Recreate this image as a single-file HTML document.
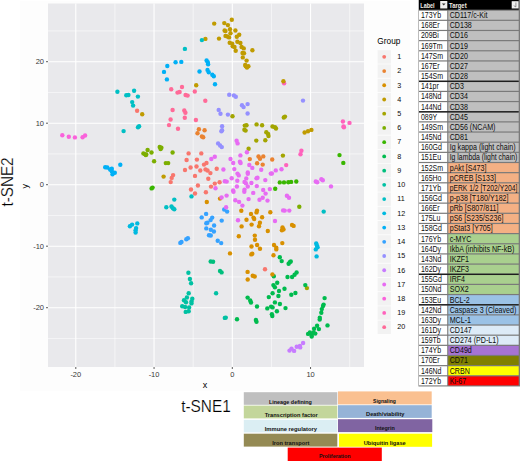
<!DOCTYPE html>
<html><head><meta charset="utf-8"><style>
html,body{margin:0;padding:0;background:#fff;}
body{width:520px;height:461px;overflow:hidden;}
svg{display:block;font-family:"Liberation Sans", sans-serif;}
</style></head><body>
<svg width="520" height="461" viewBox="0 0 520 461">
<rect x="19.8" y="1" width="390" height="389.8" fill="#FDFDFD"/>
<rect x="48" y="3.5" width="316" height="363.5" fill="#E9E9EC"/>
<line x1="114.93" y1="3.5" x2="114.93" y2="367" stroke="#FFFFFF" stroke-width="0.55"/>
<line x1="193.18" y1="3.5" x2="193.18" y2="367" stroke="#FFFFFF" stroke-width="0.55"/>
<line x1="271.43" y1="3.5" x2="271.43" y2="367" stroke="#FFFFFF" stroke-width="0.55"/>
<line x1="349.68" y1="3.5" x2="349.68" y2="367" stroke="#FFFFFF" stroke-width="0.55"/>
<line x1="48" y1="338.45" x2="364" y2="338.45" stroke="#FFFFFF" stroke-width="0.55"/>
<line x1="48" y1="276.95" x2="364" y2="276.95" stroke="#FFFFFF" stroke-width="0.55"/>
<line x1="48" y1="215.45" x2="364" y2="215.45" stroke="#FFFFFF" stroke-width="0.55"/>
<line x1="48" y1="153.95" x2="364" y2="153.95" stroke="#FFFFFF" stroke-width="0.55"/>
<line x1="48" y1="92.45" x2="364" y2="92.45" stroke="#FFFFFF" stroke-width="0.55"/>
<line x1="48" y1="30.95" x2="364" y2="30.95" stroke="#FFFFFF" stroke-width="0.55"/>
<line x1="75.80" y1="3.5" x2="75.80" y2="367" stroke="#FFFFFF" stroke-width="1.1"/>
<line x1="154.05" y1="3.5" x2="154.05" y2="367" stroke="#FFFFFF" stroke-width="1.1"/>
<line x1="232.30" y1="3.5" x2="232.30" y2="367" stroke="#FFFFFF" stroke-width="1.1"/>
<line x1="310.55" y1="3.5" x2="310.55" y2="367" stroke="#FFFFFF" stroke-width="1.1"/>
<line x1="48" y1="307.70" x2="364" y2="307.70" stroke="#FFFFFF" stroke-width="1.1"/>
<line x1="48" y1="246.20" x2="364" y2="246.20" stroke="#FFFFFF" stroke-width="1.1"/>
<line x1="48" y1="184.70" x2="364" y2="184.70" stroke="#FFFFFF" stroke-width="1.1"/>
<line x1="48" y1="123.20" x2="364" y2="123.20" stroke="#FFFFFF" stroke-width="1.1"/>
<line x1="48" y1="61.70" x2="364" y2="61.70" stroke="#FFFFFF" stroke-width="1.1"/>
<circle cx="273.8" cy="276.2" r="2.2" fill="#00BB4E"/>
<circle cx="284.1" cy="83.2" r="2.2" fill="#FF62BC"/>
<circle cx="137.1" cy="110.8" r="2.2" fill="#F8766D"/>
<circle cx="188.6" cy="153.4" r="2.2" fill="#F8766D"/>
<circle cx="201.3" cy="153.4" r="2.2" fill="#F8766D"/>
<circle cx="186.6" cy="160.0" r="2.2" fill="#F8766D"/>
<circle cx="196.9" cy="159.6" r="2.2" fill="#F8766D"/>
<circle cx="204.0" cy="164.6" r="2.2" fill="#F8766D"/>
<circle cx="206.5" cy="163.0" r="2.2" fill="#F8766D"/>
<circle cx="190.6" cy="167.5" r="2.2" fill="#F8766D"/>
<circle cx="196.5" cy="166.5" r="2.2" fill="#F8766D"/>
<circle cx="185.0" cy="170.0" r="2.2" fill="#F8766D"/>
<circle cx="200.3" cy="170.5" r="2.2" fill="#F8766D"/>
<circle cx="205.5" cy="169.4" r="2.2" fill="#F8766D"/>
<circle cx="207.5" cy="170.5" r="2.2" fill="#F8766D"/>
<circle cx="216.7" cy="168.7" r="2.2" fill="#F8766D"/>
<circle cx="210.4" cy="173.1" r="2.2" fill="#F8766D"/>
<circle cx="195.0" cy="175.9" r="2.2" fill="#F8766D"/>
<circle cx="208.3" cy="178.8" r="2.2" fill="#F8766D"/>
<circle cx="173.1" cy="175.1" r="2.2" fill="#F8766D"/>
<circle cx="171.7" cy="177.9" r="2.2" fill="#F8766D"/>
<circle cx="170.7" cy="182.1" r="2.2" fill="#F8766D"/>
<circle cx="197.9" cy="185.5" r="2.2" fill="#F8766D"/>
<circle cx="191.0" cy="189.5" r="2.2" fill="#F8766D"/>
<circle cx="195.0" cy="193.5" r="2.2" fill="#F8766D"/>
<circle cx="205.9" cy="192.3" r="2.2" fill="#F8766D"/>
<circle cx="211.0" cy="186.6" r="2.2" fill="#F8766D"/>
<circle cx="214.8" cy="183.6" r="2.2" fill="#F8766D"/>
<circle cx="219.6" cy="182.3" r="2.2" fill="#F8766D"/>
<circle cx="265.0" cy="269.2" r="2.2" fill="#F8766D"/>
<circle cx="198.9" cy="129.3" r="2.2" fill="#EA8331"/>
<circle cx="204.6" cy="130.3" r="2.2" fill="#EA8331"/>
<circle cx="197.5" cy="133.3" r="2.2" fill="#EA8331"/>
<circle cx="201.9" cy="136.5" r="2.2" fill="#EA8331"/>
<circle cx="203.2" cy="137.3" r="2.2" fill="#EA8331"/>
<circle cx="249.8" cy="159.1" r="2.2" fill="#EA8331"/>
<circle cx="258.5" cy="156.5" r="2.2" fill="#EA8331"/>
<circle cx="260.0" cy="158.8" r="2.2" fill="#EA8331"/>
<circle cx="263.3" cy="156.4" r="2.2" fill="#EA8331"/>
<circle cx="257.1" cy="163.3" r="2.2" fill="#EA8331"/>
<circle cx="262.7" cy="164.6" r="2.2" fill="#EA8331"/>
<circle cx="272.2" cy="159.5" r="2.2" fill="#EA8331"/>
<circle cx="220.0" cy="198.6" r="2.2" fill="#D89000"/>
<circle cx="206.8" cy="202.0" r="2.2" fill="#D89000"/>
<circle cx="241.3" cy="210.8" r="2.2" fill="#D89000"/>
<circle cx="251.0" cy="214.0" r="2.2" fill="#D89000"/>
<circle cx="257.0" cy="210.6" r="2.2" fill="#D89000"/>
<circle cx="256.5" cy="212.4" r="2.2" fill="#D89000"/>
<circle cx="253.5" cy="217.6" r="2.2" fill="#D89000"/>
<circle cx="254.2" cy="219.0" r="2.2" fill="#D89000"/>
<circle cx="246.5" cy="219.8" r="2.2" fill="#D89000"/>
<circle cx="262.1" cy="217.2" r="2.2" fill="#D89000"/>
<circle cx="270.3" cy="212.2" r="2.2" fill="#D89000"/>
<circle cx="259.9" cy="222.7" r="2.2" fill="#D89000"/>
<circle cx="251.6" cy="224.6" r="2.2" fill="#D89000"/>
<circle cx="241.6" cy="226.4" r="2.2" fill="#D89000"/>
<circle cx="259.0" cy="226.3" r="2.2" fill="#D89000"/>
<circle cx="267.8" cy="231.0" r="2.2" fill="#D89000"/>
<circle cx="282.5" cy="227.5" r="2.2" fill="#D89000"/>
<circle cx="283.5" cy="229.4" r="2.2" fill="#D89000"/>
<circle cx="281.9" cy="230.3" r="2.2" fill="#D89000"/>
<circle cx="238.8" cy="236.3" r="2.2" fill="#D89000"/>
<circle cx="254.8" cy="235.6" r="2.2" fill="#D89000"/>
<circle cx="255.0" cy="239.8" r="2.2" fill="#D89000"/>
<circle cx="251.5" cy="246.5" r="2.2" fill="#D89000"/>
<circle cx="257.1" cy="245.0" r="2.2" fill="#D89000"/>
<circle cx="260.0" cy="248.8" r="2.2" fill="#D89000"/>
<circle cx="282.3" cy="243.1" r="2.2" fill="#D89000"/>
<circle cx="274.0" cy="245.0" r="2.2" fill="#D89000"/>
<circle cx="276.3" cy="247.8" r="2.2" fill="#D89000"/>
<circle cx="276.3" cy="249.4" r="2.2" fill="#D89000"/>
<circle cx="230.0" cy="253.4" r="2.2" fill="#D89000"/>
<circle cx="251.3" cy="254.4" r="2.2" fill="#D89000"/>
<circle cx="252.3" cy="253.8" r="2.2" fill="#D89000"/>
<circle cx="273.5" cy="255.3" r="2.2" fill="#D89000"/>
<circle cx="292.0" cy="224.9" r="2.2" fill="#D89000"/>
<circle cx="293.6" cy="225.9" r="2.2" fill="#D89000"/>
<circle cx="247.6" cy="271.9" r="2.2" fill="#D89000"/>
<circle cx="252.7" cy="275.7" r="2.2" fill="#D89000"/>
<circle cx="254.7" cy="276.5" r="2.2" fill="#D89000"/>
<circle cx="247.7" cy="279.5" r="2.2" fill="#D89000"/>
<circle cx="272.4" cy="274.4" r="2.2" fill="#D89000"/>
<circle cx="214.2" cy="23.6" r="2.2" fill="#C09B00"/>
<circle cx="231.8" cy="19.8" r="2.2" fill="#C09B00"/>
<circle cx="224.3" cy="23.1" r="2.2" fill="#C09B00"/>
<circle cx="227.9" cy="25.1" r="2.2" fill="#C09B00"/>
<circle cx="230.0" cy="29.3" r="2.2" fill="#C09B00"/>
<circle cx="224.6" cy="30.5" r="2.2" fill="#C09B00"/>
<circle cx="225.5" cy="31.1" r="2.2" fill="#C09B00"/>
<circle cx="230.5" cy="33.3" r="2.2" fill="#C09B00"/>
<circle cx="235.4" cy="30.5" r="2.2" fill="#C09B00"/>
<circle cx="219.0" cy="38.6" r="2.2" fill="#C09B00"/>
<circle cx="225.5" cy="35.9" r="2.2" fill="#C09B00"/>
<circle cx="227.3" cy="36.5" r="2.2" fill="#C09B00"/>
<circle cx="229.1" cy="37.4" r="2.2" fill="#C09B00"/>
<circle cx="236.8" cy="36.7" r="2.2" fill="#C09B00"/>
<circle cx="239.2" cy="34.7" r="2.2" fill="#C09B00"/>
<circle cx="229.7" cy="42.7" r="2.2" fill="#C09B00"/>
<circle cx="232.1" cy="43.6" r="2.2" fill="#C09B00"/>
<circle cx="232.7" cy="46.3" r="2.2" fill="#C09B00"/>
<circle cx="234.5" cy="47.0" r="2.2" fill="#C09B00"/>
<circle cx="237.4" cy="41.8" r="2.2" fill="#C09B00"/>
<circle cx="240.4" cy="43.0" r="2.2" fill="#C09B00"/>
<circle cx="241.6" cy="47.0" r="2.2" fill="#C09B00"/>
<circle cx="243.8" cy="48.4" r="2.2" fill="#C09B00"/>
<circle cx="235.7" cy="50.8" r="2.2" fill="#C09B00"/>
<circle cx="242.5" cy="53.0" r="2.2" fill="#C09B00"/>
<circle cx="244.0" cy="53.2" r="2.2" fill="#C09B00"/>
<circle cx="252.4" cy="50.2" r="2.2" fill="#C09B00"/>
<circle cx="242.8" cy="57.4" r="2.2" fill="#C09B00"/>
<circle cx="246.6" cy="60.6" r="2.2" fill="#C09B00"/>
<circle cx="245.2" cy="64.9" r="2.2" fill="#C09B00"/>
<circle cx="245.8" cy="66.3" r="2.2" fill="#C09B00"/>
<circle cx="248.4" cy="66.3" r="2.2" fill="#C09B00"/>
<circle cx="247.0" cy="67.5" r="2.2" fill="#C09B00"/>
<circle cx="205.4" cy="38.9" r="2.2" fill="#C09B00"/>
<circle cx="196.2" cy="85.2" r="2.2" fill="#C09B00"/>
<circle cx="142.2" cy="114.3" r="2.2" fill="#C09B00"/>
<circle cx="163.6" cy="176.6" r="2.2" fill="#C09B00"/>
<circle cx="304.6" cy="132.5" r="2.2" fill="#C09B00"/>
<circle cx="308.0" cy="131.3" r="2.2" fill="#C09B00"/>
<circle cx="311.4" cy="129.9" r="2.2" fill="#C09B00"/>
<circle cx="283.4" cy="81.3" r="2.2" fill="#C09B00"/>
<circle cx="232.5" cy="116.3" r="2.2" fill="#A3A500"/>
<circle cx="244.8" cy="125.6" r="2.2" fill="#A3A500"/>
<circle cx="246.5" cy="125.3" r="2.2" fill="#A3A500"/>
<circle cx="244.4" cy="129.8" r="2.2" fill="#A3A500"/>
<circle cx="245.6" cy="130.6" r="2.2" fill="#A3A500"/>
<circle cx="256.6" cy="124.4" r="2.2" fill="#A3A500"/>
<circle cx="262.1" cy="125.3" r="2.2" fill="#A3A500"/>
<circle cx="272.5" cy="126.5" r="2.2" fill="#A3A500"/>
<circle cx="275.0" cy="127.3" r="2.2" fill="#A3A500"/>
<circle cx="276.0" cy="128.5" r="2.2" fill="#A3A500"/>
<circle cx="266.3" cy="132.3" r="2.2" fill="#A3A500"/>
<circle cx="268.1" cy="134.0" r="2.2" fill="#A3A500"/>
<circle cx="268.5" cy="136.0" r="2.2" fill="#A3A500"/>
<circle cx="256.3" cy="140.6" r="2.2" fill="#A3A500"/>
<circle cx="265.3" cy="140.3" r="2.2" fill="#A3A500"/>
<circle cx="283.8" cy="117.5" r="2.2" fill="#A3A500"/>
<circle cx="285.0" cy="116.6" r="2.2" fill="#A3A500"/>
<circle cx="248.6" cy="148.8" r="2.2" fill="#A3A500"/>
<circle cx="282.9" cy="155.6" r="2.2" fill="#A3A500"/>
<circle cx="306.9" cy="288.1" r="2.2" fill="#A3A500"/>
<circle cx="159.7" cy="147.0" r="2.2" fill="#7CAE00"/>
<circle cx="161.4" cy="147.8" r="2.2" fill="#7CAE00"/>
<circle cx="160.6" cy="149.0" r="2.2" fill="#7CAE00"/>
<circle cx="147.6" cy="150.0" r="2.2" fill="#7CAE00"/>
<circle cx="143.4" cy="153.4" r="2.2" fill="#7CAE00"/>
<circle cx="144.8" cy="154.1" r="2.2" fill="#7CAE00"/>
<circle cx="146.3" cy="154.4" r="2.2" fill="#7CAE00"/>
<circle cx="145.8" cy="155.1" r="2.2" fill="#7CAE00"/>
<circle cx="151.5" cy="152.5" r="2.2" fill="#7CAE00"/>
<circle cx="172.6" cy="152.5" r="2.2" fill="#7CAE00"/>
<circle cx="154.1" cy="161.3" r="2.2" fill="#7CAE00"/>
<circle cx="165.8" cy="163.1" r="2.2" fill="#7CAE00"/>
<circle cx="168.2" cy="163.1" r="2.2" fill="#7CAE00"/>
<circle cx="299.3" cy="206.7" r="2.2" fill="#7CAE00"/>
<circle cx="279.8" cy="182.4" r="2.2" fill="#39B600"/>
<circle cx="284.0" cy="182.4" r="2.2" fill="#39B600"/>
<circle cx="288.3" cy="182.2" r="2.2" fill="#39B600"/>
<circle cx="291.1" cy="181.9" r="2.2" fill="#39B600"/>
<circle cx="296.3" cy="181.5" r="2.2" fill="#39B600"/>
<circle cx="275.2" cy="188.8" r="2.2" fill="#39B600"/>
<circle cx="151.6" cy="188.4" r="2.2" fill="#39B600"/>
<circle cx="152.6" cy="187.6" r="2.2" fill="#39B600"/>
<circle cx="339.5" cy="155.1" r="2.2" fill="#39B600"/>
<circle cx="343.3" cy="162.9" r="2.2" fill="#39B600"/>
<circle cx="279.8" cy="257.3" r="2.2" fill="#00BB4E"/>
<circle cx="281.7" cy="261.1" r="2.2" fill="#00BB4E"/>
<circle cx="288.6" cy="263.8" r="2.2" fill="#00BB4E"/>
<circle cx="289.8" cy="262.3" r="2.2" fill="#00BB4E"/>
<circle cx="290.8" cy="261.4" r="2.2" fill="#00BB4E"/>
<circle cx="287.5" cy="277.0" r="2.2" fill="#00BB4E"/>
<circle cx="292.1" cy="277.0" r="2.2" fill="#00BB4E"/>
<circle cx="294.6" cy="274.7" r="2.2" fill="#00BB4E"/>
<circle cx="296.6" cy="272.5" r="2.2" fill="#00BB4E"/>
<circle cx="305.3" cy="285.1" r="2.2" fill="#00BB4E"/>
<circle cx="277.2" cy="282.8" r="2.2" fill="#00BB4E"/>
<circle cx="273.4" cy="285.1" r="2.2" fill="#00BB4E"/>
<circle cx="274.9" cy="287.2" r="2.2" fill="#00BB4E"/>
<circle cx="284.5" cy="288.7" r="2.2" fill="#00BB4E"/>
<circle cx="279.0" cy="291.0" r="2.2" fill="#00BB4E"/>
<circle cx="272.6" cy="293.3" r="2.2" fill="#00BB4E"/>
<circle cx="268.8" cy="297.1" r="2.2" fill="#00BB4E"/>
<circle cx="278.4" cy="296.0" r="2.2" fill="#00BB4E"/>
<circle cx="291.3" cy="294.8" r="2.2" fill="#00BB4E"/>
<circle cx="295.4" cy="293.0" r="2.2" fill="#00BB4E"/>
<circle cx="274.9" cy="302.4" r="2.2" fill="#00BB4E"/>
<circle cx="279.9" cy="304.0" r="2.2" fill="#00BB4E"/>
<circle cx="267.3" cy="308.4" r="2.2" fill="#00BB4E"/>
<circle cx="271.1" cy="306.6" r="2.2" fill="#00BB4E"/>
<circle cx="272.6" cy="307.4" r="2.2" fill="#00BB4E"/>
<circle cx="285.5" cy="308.1" r="2.2" fill="#00BB4E"/>
<circle cx="276.9" cy="311.2" r="2.2" fill="#00BB4E"/>
<circle cx="271.9" cy="314.2" r="2.2" fill="#00BB4E"/>
<circle cx="272.3" cy="316.0" r="2.2" fill="#00BB4E"/>
<circle cx="247.6" cy="297.6" r="2.2" fill="#00BB4E"/>
<circle cx="250.2" cy="300.5" r="2.2" fill="#00BB4E"/>
<circle cx="251.0" cy="302.5" r="2.2" fill="#00BB4E"/>
<circle cx="257.0" cy="306.5" r="2.2" fill="#00BB4E"/>
<circle cx="237.0" cy="319.2" r="2.2" fill="#00BB4E"/>
<circle cx="255.9" cy="320.0" r="2.2" fill="#00BB4E"/>
<circle cx="256.5" cy="321.7" r="2.2" fill="#00BB4E"/>
<circle cx="324.6" cy="298.1" r="2.2" fill="#00BB4E"/>
<circle cx="323.6" cy="304.6" r="2.2" fill="#00BB4E"/>
<circle cx="323.0" cy="306.1" r="2.2" fill="#00BB4E"/>
<circle cx="321.8" cy="309.1" r="2.2" fill="#00BB4E"/>
<circle cx="321.3" cy="312.7" r="2.2" fill="#00BB4E"/>
<circle cx="319.8" cy="317.7" r="2.2" fill="#00BB4E"/>
<circle cx="319.7" cy="319.6" r="2.2" fill="#00BB4E"/>
<circle cx="327.5" cy="325.4" r="2.2" fill="#00BB4E"/>
<circle cx="317.1" cy="325.8" r="2.2" fill="#00BB4E"/>
<circle cx="314.1" cy="328.8" r="2.2" fill="#00BB4E"/>
<circle cx="318.9" cy="329.1" r="2.2" fill="#00BB4E"/>
<circle cx="309.9" cy="332.4" r="2.2" fill="#00BB4E"/>
<circle cx="308.1" cy="333.9" r="2.2" fill="#00BB4E"/>
<circle cx="315.3" cy="333.6" r="2.2" fill="#00BB4E"/>
<circle cx="311.7" cy="334.7" r="2.2" fill="#00BB4E"/>
<circle cx="311.7" cy="336.5" r="2.2" fill="#00BB4E"/>
<circle cx="313.5" cy="332.4" r="2.2" fill="#00BB4E"/>
<circle cx="210.7" cy="261.5" r="2.2" fill="#00BF7D"/>
<circle cx="213.1" cy="261.8" r="2.2" fill="#00BF7D"/>
<circle cx="220.0" cy="270.9" r="2.2" fill="#00BF7D"/>
<circle cx="221.6" cy="272.4" r="2.2" fill="#00BF7D"/>
<circle cx="188.4" cy="272.8" r="2.2" fill="#00C1A3"/>
<circle cx="189.9" cy="279.0" r="2.2" fill="#00C1A3"/>
<circle cx="191.1" cy="283.3" r="2.2" fill="#00C1A3"/>
<circle cx="188.7" cy="293.3" r="2.2" fill="#00C1A3"/>
<circle cx="186.9" cy="297.5" r="2.2" fill="#00C1A3"/>
<circle cx="184.0" cy="300.2" r="2.2" fill="#00C1A3"/>
<circle cx="186.0" cy="302.2" r="2.2" fill="#00C1A3"/>
<circle cx="192.3" cy="298.7" r="2.2" fill="#00C1A3"/>
<circle cx="191.5" cy="301.4" r="2.2" fill="#00C1A3"/>
<circle cx="191.5" cy="303.4" r="2.2" fill="#00C1A3"/>
<circle cx="182.2" cy="306.2" r="2.2" fill="#00C1A3"/>
<circle cx="185.1" cy="307.0" r="2.2" fill="#00C1A3"/>
<circle cx="189.1" cy="307.4" r="2.2" fill="#00C1A3"/>
<circle cx="185.7" cy="311.9" r="2.2" fill="#00C1A3"/>
<circle cx="188.7" cy="311.3" r="2.2" fill="#00C1A3"/>
<circle cx="216.1" cy="293.2" r="2.2" fill="#00C1A3"/>
<circle cx="224.8" cy="317.9" r="2.2" fill="#00C1A3"/>
<circle cx="225.8" cy="317.6" r="2.2" fill="#00C1A3"/>
<circle cx="117.4" cy="91.7" r="2.2" fill="#00BFC4"/>
<circle cx="126.3" cy="95.3" r="2.2" fill="#00BFC4"/>
<circle cx="128.4" cy="95.0" r="2.2" fill="#00BFC4"/>
<circle cx="134.1" cy="90.7" r="2.2" fill="#00BFC4"/>
<circle cx="137.9" cy="96.6" r="2.2" fill="#00BFC4"/>
<circle cx="132.2" cy="102.1" r="2.2" fill="#00BFC4"/>
<circle cx="133.1" cy="105.6" r="2.2" fill="#00BFC4"/>
<circle cx="138.0" cy="127.3" r="2.2" fill="#00BFC4"/>
<circle cx="139.1" cy="126.2" r="2.2" fill="#00BFC4"/>
<circle cx="123.6" cy="131.1" r="2.2" fill="#00BFC4"/>
<circle cx="201.9" cy="40.1" r="2.2" fill="#00BFC4"/>
<circle cx="184.9" cy="48.9" r="2.2" fill="#00BFC4"/>
<circle cx="166.3" cy="207.3" r="2.2" fill="#00BFC4"/>
<circle cx="171.5" cy="206.5" r="2.2" fill="#00BFC4"/>
<circle cx="172.9" cy="208.3" r="2.2" fill="#00BFC4"/>
<circle cx="174.3" cy="209.3" r="2.2" fill="#00BFC4"/>
<circle cx="174.3" cy="199.6" r="2.2" fill="#00BFC4"/>
<circle cx="191.5" cy="196.4" r="2.2" fill="#00BFC4"/>
<circle cx="323.7" cy="211.6" r="2.2" fill="#00BFC4"/>
<circle cx="129.9" cy="226.3" r="2.2" fill="#00BAE0"/>
<circle cx="132.1" cy="224.6" r="2.2" fill="#00BAE0"/>
<circle cx="137.3" cy="223.4" r="2.2" fill="#00BAE0"/>
<circle cx="136.1" cy="228.1" r="2.2" fill="#00BAE0"/>
<circle cx="135.6" cy="230.3" r="2.2" fill="#00BAE0"/>
<circle cx="135.6" cy="232.6" r="2.2" fill="#00BAE0"/>
<circle cx="316.2" cy="243.4" r="2.2" fill="#00BAE0"/>
<circle cx="316.9" cy="245.4" r="2.2" fill="#00BAE0"/>
<circle cx="317.6" cy="247.2" r="2.2" fill="#00BAE0"/>
<circle cx="315.8" cy="249.4" r="2.2" fill="#00BAE0"/>
<circle cx="316.6" cy="256.4" r="2.2" fill="#00BAE0"/>
<circle cx="175.6" cy="62.2" r="2.2" fill="#00B0F6"/>
<circle cx="181.3" cy="61.9" r="2.2" fill="#00B0F6"/>
<circle cx="167.3" cy="66.0" r="2.2" fill="#00B0F6"/>
<circle cx="164.0" cy="71.9" r="2.2" fill="#00B0F6"/>
<circle cx="166.9" cy="79.4" r="2.2" fill="#00B0F6"/>
<circle cx="199.5" cy="71.5" r="2.2" fill="#00B0F6"/>
<circle cx="206.6" cy="60.4" r="2.2" fill="#00B0F6"/>
<circle cx="207.8" cy="62.2" r="2.2" fill="#00B0F6"/>
<circle cx="208.1" cy="64.3" r="2.2" fill="#00B0F6"/>
<circle cx="207.5" cy="69.9" r="2.2" fill="#00B0F6"/>
<circle cx="208.7" cy="72.3" r="2.2" fill="#00B0F6"/>
<circle cx="212.3" cy="74.7" r="2.2" fill="#00B0F6"/>
<circle cx="213.8" cy="76.2" r="2.2" fill="#00B0F6"/>
<circle cx="215.0" cy="84.2" r="2.2" fill="#00B0F6"/>
<circle cx="105.2" cy="167.3" r="2.2" fill="#00B0F6"/>
<circle cx="107.3" cy="167.5" r="2.2" fill="#00B0F6"/>
<circle cx="110.1" cy="169.5" r="2.2" fill="#00B0F6"/>
<circle cx="111.8" cy="168.7" r="2.2" fill="#00B0F6"/>
<circle cx="111.8" cy="171.3" r="2.2" fill="#00B0F6"/>
<circle cx="114.8" cy="172.7" r="2.2" fill="#00B0F6"/>
<circle cx="112.5" cy="174.2" r="2.2" fill="#00B0F6"/>
<circle cx="120.3" cy="164.7" r="2.2" fill="#00B0F6"/>
<circle cx="206.1" cy="213.9" r="2.2" fill="#35A2FF"/>
<circle cx="201.7" cy="217.4" r="2.2" fill="#35A2FF"/>
<circle cx="212.2" cy="217.6" r="2.2" fill="#35A2FF"/>
<circle cx="210.6" cy="220.1" r="2.2" fill="#35A2FF"/>
<circle cx="207.4" cy="222.8" r="2.2" fill="#35A2FF"/>
<circle cx="206.3" cy="223.3" r="2.2" fill="#35A2FF"/>
<circle cx="214.1" cy="225.5" r="2.2" fill="#35A2FF"/>
<circle cx="206.3" cy="228.4" r="2.2" fill="#35A2FF"/>
<circle cx="210.8" cy="229.8" r="2.2" fill="#35A2FF"/>
<circle cx="213.9" cy="231.5" r="2.2" fill="#35A2FF"/>
<circle cx="209.0" cy="235.2" r="2.2" fill="#35A2FF"/>
<circle cx="210.8" cy="235.5" r="2.2" fill="#35A2FF"/>
<circle cx="217.7" cy="240.7" r="2.2" fill="#35A2FF"/>
<circle cx="221.2" cy="243.1" r="2.2" fill="#35A2FF"/>
<circle cx="221.7" cy="220.6" r="2.2" fill="#35A2FF"/>
<circle cx="224.2" cy="209.5" r="2.2" fill="#35A2FF"/>
<circle cx="227.1" cy="211.6" r="2.2" fill="#35A2FF"/>
<circle cx="180.3" cy="242.9" r="2.2" fill="#35A2FF"/>
<circle cx="181.5" cy="241.9" r="2.2" fill="#35A2FF"/>
<circle cx="186.3" cy="239.3" r="2.2" fill="#35A2FF"/>
<circle cx="187.9" cy="238.3" r="2.2" fill="#35A2FF"/>
<circle cx="229.2" cy="94.7" r="2.2" fill="#9590FF"/>
<circle cx="233.9" cy="95.4" r="2.2" fill="#9590FF"/>
<circle cx="235.8" cy="96.7" r="2.2" fill="#9590FF"/>
<circle cx="242.0" cy="105.2" r="2.2" fill="#9590FF"/>
<circle cx="243.6" cy="107.1" r="2.2" fill="#9590FF"/>
<circle cx="247.6" cy="104.1" r="2.2" fill="#9590FF"/>
<circle cx="218.7" cy="109.9" r="2.2" fill="#9590FF"/>
<circle cx="220.5" cy="113.8" r="2.2" fill="#9590FF"/>
<circle cx="227.9" cy="114.6" r="2.2" fill="#9590FF"/>
<circle cx="247.6" cy="113.5" r="2.2" fill="#9590FF"/>
<circle cx="222.1" cy="126.3" r="2.2" fill="#9590FF"/>
<circle cx="222.1" cy="130.3" r="2.2" fill="#9590FF"/>
<circle cx="221.4" cy="131.3" r="2.2" fill="#9590FF"/>
<circle cx="218.1" cy="143.4" r="2.2" fill="#9590FF"/>
<circle cx="220.1" cy="145.5" r="2.2" fill="#9590FF"/>
<circle cx="221.8" cy="147.1" r="2.2" fill="#9590FF"/>
<circle cx="303.0" cy="100.6" r="2.2" fill="#9590FF"/>
<circle cx="289.5" cy="350.6" r="2.2" fill="#C77CFF"/>
<circle cx="291.5" cy="348.6" r="2.2" fill="#C77CFF"/>
<circle cx="294.1" cy="350.9" r="2.2" fill="#C77CFF"/>
<circle cx="296.7" cy="346.8" r="2.2" fill="#C77CFF"/>
<circle cx="299.9" cy="346.0" r="2.2" fill="#C77CFF"/>
<circle cx="300.2" cy="347.4" r="2.2" fill="#C77CFF"/>
<circle cx="303.1" cy="343.0" r="2.2" fill="#C77CFF"/>
<circle cx="236.6" cy="140.7" r="2.2" fill="#E76BF3"/>
<circle cx="237.6" cy="143.4" r="2.2" fill="#E76BF3"/>
<circle cx="246.9" cy="152.3" r="2.2" fill="#E76BF3"/>
<circle cx="240.4" cy="155.4" r="2.2" fill="#E76BF3"/>
<circle cx="214.8" cy="156.8" r="2.2" fill="#E76BF3"/>
<circle cx="211.3" cy="159.0" r="2.2" fill="#E76BF3"/>
<circle cx="230.5" cy="159.0" r="2.2" fill="#E76BF3"/>
<circle cx="233.2" cy="163.0" r="2.2" fill="#E76BF3"/>
<circle cx="239.9" cy="161.7" r="2.2" fill="#E76BF3"/>
<circle cx="240.6" cy="163.0" r="2.2" fill="#E76BF3"/>
<circle cx="249.3" cy="165.0" r="2.2" fill="#E76BF3"/>
<circle cx="252.3" cy="167.9" r="2.2" fill="#E76BF3"/>
<circle cx="223.4" cy="169.5" r="2.2" fill="#E76BF3"/>
<circle cx="234.3" cy="169.1" r="2.2" fill="#E76BF3"/>
<circle cx="237.5" cy="173.6" r="2.2" fill="#E76BF3"/>
<circle cx="238.8" cy="175.4" r="2.2" fill="#E76BF3"/>
<circle cx="247.8" cy="172.5" r="2.2" fill="#E76BF3"/>
<circle cx="247.8" cy="173.8" r="2.2" fill="#E76BF3"/>
<circle cx="261.2" cy="169.8" r="2.2" fill="#E76BF3"/>
<circle cx="275.8" cy="170.4" r="2.2" fill="#E76BF3"/>
<circle cx="270.8" cy="173.6" r="2.2" fill="#E76BF3"/>
<circle cx="271.9" cy="173.5" r="2.2" fill="#E76BF3"/>
<circle cx="281.5" cy="169.3" r="2.2" fill="#E76BF3"/>
<circle cx="231.7" cy="178.3" r="2.2" fill="#E76BF3"/>
<circle cx="237.3" cy="180.8" r="2.2" fill="#E76BF3"/>
<circle cx="246.3" cy="178.4" r="2.2" fill="#E76BF3"/>
<circle cx="244.5" cy="182.0" r="2.2" fill="#E76BF3"/>
<circle cx="245.9" cy="183.3" r="2.2" fill="#E76BF3"/>
<circle cx="247.8" cy="186.5" r="2.2" fill="#E76BF3"/>
<circle cx="251.4" cy="183.0" r="2.2" fill="#E76BF3"/>
<circle cx="224.8" cy="181.2" r="2.2" fill="#E76BF3"/>
<circle cx="226.7" cy="181.6" r="2.2" fill="#E76BF3"/>
<circle cx="236.9" cy="186.5" r="2.2" fill="#E76BF3"/>
<circle cx="215.5" cy="188.2" r="2.2" fill="#E76BF3"/>
<circle cx="233.1" cy="190.5" r="2.2" fill="#E76BF3"/>
<circle cx="233.5" cy="191.8" r="2.2" fill="#E76BF3"/>
<circle cx="256.5" cy="178.3" r="2.2" fill="#E76BF3"/>
<circle cx="257.5" cy="177.7" r="2.2" fill="#E76BF3"/>
<circle cx="265.3" cy="180.1" r="2.2" fill="#E76BF3"/>
<circle cx="256.8" cy="186.1" r="2.2" fill="#E76BF3"/>
<circle cx="244.5" cy="189.6" r="2.2" fill="#E76BF3"/>
<circle cx="244.3" cy="191.8" r="2.2" fill="#E76BF3"/>
<circle cx="253.2" cy="192.9" r="2.2" fill="#E76BF3"/>
<circle cx="263.2" cy="190.0" r="2.2" fill="#E76BF3"/>
<circle cx="269.8" cy="189.1" r="2.2" fill="#E76BF3"/>
<circle cx="265.6" cy="193.6" r="2.2" fill="#E76BF3"/>
<circle cx="226.6" cy="195.6" r="2.2" fill="#E76BF3"/>
<circle cx="221.6" cy="197.5" r="2.2" fill="#E76BF3"/>
<circle cx="248.6" cy="199.1" r="2.2" fill="#E76BF3"/>
<circle cx="259.5" cy="199.7" r="2.2" fill="#E76BF3"/>
<circle cx="262.7" cy="197.8" r="2.2" fill="#E76BF3"/>
<circle cx="267.5" cy="200.6" r="2.2" fill="#E76BF3"/>
<circle cx="235.3" cy="200.2" r="2.2" fill="#E76BF3"/>
<circle cx="239.1" cy="201.9" r="2.2" fill="#E76BF3"/>
<circle cx="242.4" cy="205.6" r="2.2" fill="#E76BF3"/>
<circle cx="226.1" cy="207.2" r="2.2" fill="#E76BF3"/>
<circle cx="238.0" cy="220.3" r="2.2" fill="#E76BF3"/>
<circle cx="275.0" cy="221.0" r="2.2" fill="#E76BF3"/>
<circle cx="286.9" cy="195.8" r="2.2" fill="#E76BF3"/>
<circle cx="289.0" cy="197.7" r="2.2" fill="#E76BF3"/>
<circle cx="283.1" cy="210.4" r="2.2" fill="#E76BF3"/>
<circle cx="284.7" cy="210.6" r="2.2" fill="#E76BF3"/>
<circle cx="289.3" cy="210.6" r="2.2" fill="#E76BF3"/>
<circle cx="315.8" cy="181.5" r="2.2" fill="#E76BF3"/>
<circle cx="317.2" cy="182.2" r="2.2" fill="#E76BF3"/>
<circle cx="321.4" cy="179.3" r="2.2" fill="#E76BF3"/>
<circle cx="322.8" cy="180.3" r="2.2" fill="#E76BF3"/>
<circle cx="331.0" cy="186.4" r="2.2" fill="#E76BF3"/>
<circle cx="62.3" cy="135.2" r="2.2" fill="#FA62DB"/>
<circle cx="68.8" cy="136.8" r="2.2" fill="#FA62DB"/>
<circle cx="74.9" cy="137.4" r="2.2" fill="#FA62DB"/>
<circle cx="82.6" cy="137.3" r="2.2" fill="#FA62DB"/>
<circle cx="85.1" cy="135.5" r="2.2" fill="#FA62DB"/>
<circle cx="342.9" cy="121.5" r="2.2" fill="#FF62BC"/>
<circle cx="343.5" cy="126.5" r="2.2" fill="#FF62BC"/>
<circle cx="343.9" cy="127.3" r="2.2" fill="#FF62BC"/>
<circle cx="349.5" cy="122.9" r="2.2" fill="#FF62BC"/>
<circle cx="301.4" cy="150.7" r="2.2" fill="#FF62BC"/>
<circle cx="300.5" cy="154.2" r="2.2" fill="#FF62BC"/>
<circle cx="286.2" cy="165.1" r="2.2" fill="#FF62BC"/>
<circle cx="171.2" cy="89.3" r="2.2" fill="#FF6A98"/>
<circle cx="182.0" cy="87.0" r="2.2" fill="#FF6A98"/>
<circle cx="177.5" cy="92.6" r="2.2" fill="#FF6A98"/>
<circle cx="179.6" cy="92.0" r="2.2" fill="#FF6A98"/>
<circle cx="185.6" cy="95.0" r="2.2" fill="#FF6A98"/>
<circle cx="187.6" cy="95.6" r="2.2" fill="#FF6A98"/>
<circle cx="194.8" cy="91.5" r="2.2" fill="#FF6A98"/>
<circle cx="205.3" cy="100.7" r="2.2" fill="#FF6A98"/>
<circle cx="172.6" cy="110.0" r="2.2" fill="#FF6A98"/>
<circle cx="184.3" cy="110.5" r="2.2" fill="#FF6A98"/>
<circle cx="185.4" cy="112.7" r="2.2" fill="#FF6A98"/>
<circle cx="184.8" cy="117.8" r="2.2" fill="#FF6A98"/>
<circle cx="170.6" cy="119.5" r="2.2" fill="#FF6A98"/>
<circle cx="195.9" cy="120.0" r="2.2" fill="#FF6A98"/>
<circle cx="169.0" cy="125.1" r="2.2" fill="#FF6A98"/>
<circle cx="178.0" cy="128.7" r="2.2" fill="#FF6A98"/>
<line x1="75.80" y1="367" x2="75.80" y2="369" stroke="#333333" stroke-width="0.8"/>
<text x="75.80" y="376.8" font-size="7.5" fill="#383838" text-anchor="middle">-20</text>
<line x1="154.05" y1="367" x2="154.05" y2="369" stroke="#333333" stroke-width="0.8"/>
<text x="154.05" y="376.8" font-size="7.5" fill="#383838" text-anchor="middle">-10</text>
<line x1="232.30" y1="367" x2="232.30" y2="369" stroke="#333333" stroke-width="0.8"/>
<text x="232.30" y="376.8" font-size="7.5" fill="#383838" text-anchor="middle">0</text>
<line x1="310.55" y1="367" x2="310.55" y2="369" stroke="#333333" stroke-width="0.8"/>
<text x="310.55" y="376.8" font-size="7.5" fill="#383838" text-anchor="middle">10</text>
<line x1="46" y1="307.70" x2="48" y2="307.70" stroke="#333333" stroke-width="0.8"/>
<text x="44" y="310.40" font-size="7.5" fill="#383838" text-anchor="end">-20</text>
<line x1="46" y1="246.20" x2="48" y2="246.20" stroke="#333333" stroke-width="0.8"/>
<text x="44" y="248.90" font-size="7.5" fill="#383838" text-anchor="end">-10</text>
<line x1="46" y1="184.70" x2="48" y2="184.70" stroke="#333333" stroke-width="0.8"/>
<text x="44" y="187.40" font-size="7.5" fill="#383838" text-anchor="end">0</text>
<line x1="46" y1="123.20" x2="48" y2="123.20" stroke="#333333" stroke-width="0.8"/>
<text x="44" y="125.90" font-size="7.5" fill="#383838" text-anchor="end">10</text>
<line x1="46" y1="61.70" x2="48" y2="61.70" stroke="#333333" stroke-width="0.8"/>
<text x="44" y="64.40" font-size="7.5" fill="#383838" text-anchor="end">20</text>
<text x="205" y="388" font-size="9" fill="#000" text-anchor="middle">x</text>
<text transform="translate(27.6,186.3) rotate(-90)" font-size="9" fill="#000" text-anchor="middle">y</text>
<text x="181.2" y="411.9" font-size="16" fill="#000" stroke="#FFFFFF" stroke-width="0.2" textLength="49.6" lengthAdjust="spacingAndGlyphs">t-SNE1</text>
<text transform="translate(12.9,206.5) rotate(-90)" font-size="16" fill="#000" stroke="#FFFFFF" stroke-width="0.2" textLength="49" lengthAdjust="spacingAndGlyphs">t-SNE2</text>
<text x="377.3" y="43.5" font-size="8.3" fill="#000">Group</text>
<rect x="377.6" y="50.20" width="13.3" height="13.4" fill="#F2F2F2"/>
<circle cx="384.2" cy="56.80" r="1.9" fill="#F8766D"/>
<text x="397.3" y="59.10" font-size="7.2" fill="#0A0A0A">1</text>
<rect x="377.6" y="64.43" width="13.3" height="13.4" fill="#F2F2F2"/>
<circle cx="384.2" cy="71.03" r="1.9" fill="#EA8331"/>
<text x="397.3" y="73.33" font-size="7.2" fill="#0A0A0A">2</text>
<rect x="377.6" y="78.66" width="13.3" height="13.4" fill="#F2F2F2"/>
<circle cx="384.2" cy="85.26" r="1.9" fill="#D89000"/>
<text x="397.3" y="87.56" font-size="7.2" fill="#0A0A0A">3</text>
<rect x="377.6" y="92.89" width="13.3" height="13.4" fill="#F2F2F2"/>
<circle cx="384.2" cy="99.49" r="1.9" fill="#C09B00"/>
<text x="397.3" y="101.79" font-size="7.2" fill="#0A0A0A">4</text>
<rect x="377.6" y="107.12" width="13.3" height="13.4" fill="#F2F2F2"/>
<circle cx="384.2" cy="113.72" r="1.9" fill="#A3A500"/>
<text x="397.3" y="116.02" font-size="7.2" fill="#0A0A0A">5</text>
<rect x="377.6" y="121.35" width="13.3" height="13.4" fill="#F2F2F2"/>
<circle cx="384.2" cy="127.95" r="1.9" fill="#7CAE00"/>
<text x="397.3" y="130.25" font-size="7.2" fill="#0A0A0A">6</text>
<rect x="377.6" y="135.58" width="13.3" height="13.4" fill="#F2F2F2"/>
<circle cx="384.2" cy="142.18" r="1.9" fill="#39B600"/>
<text x="397.3" y="144.48" font-size="7.2" fill="#0A0A0A">7</text>
<rect x="377.6" y="149.81" width="13.3" height="13.4" fill="#F2F2F2"/>
<circle cx="384.2" cy="156.41" r="1.9" fill="#00BB4E"/>
<text x="397.3" y="158.71" font-size="7.2" fill="#0A0A0A">8</text>
<rect x="377.6" y="164.04" width="13.3" height="13.4" fill="#F2F2F2"/>
<circle cx="384.2" cy="170.64" r="1.9" fill="#00BF7D"/>
<text x="397.3" y="172.94" font-size="7.2" fill="#0A0A0A">9</text>
<rect x="377.6" y="178.27" width="13.3" height="13.4" fill="#F2F2F2"/>
<circle cx="384.2" cy="184.87" r="1.9" fill="#00C1A3"/>
<text x="397.3" y="187.17" font-size="7.2" fill="#0A0A0A">10</text>
<rect x="377.6" y="192.50" width="13.3" height="13.4" fill="#F2F2F2"/>
<circle cx="384.2" cy="199.10" r="1.9" fill="#00BFC4"/>
<text x="397.3" y="201.40" font-size="7.2" fill="#0A0A0A">11</text>
<rect x="377.6" y="206.73" width="13.3" height="13.4" fill="#F2F2F2"/>
<circle cx="384.2" cy="213.33" r="1.9" fill="#00BAE0"/>
<text x="397.3" y="215.63" font-size="7.2" fill="#0A0A0A">12</text>
<rect x="377.6" y="220.96" width="13.3" height="13.4" fill="#F2F2F2"/>
<circle cx="384.2" cy="227.56" r="1.9" fill="#00B0F6"/>
<text x="397.3" y="229.86" font-size="7.2" fill="#0A0A0A">13</text>
<rect x="377.6" y="235.19" width="13.3" height="13.4" fill="#F2F2F2"/>
<circle cx="384.2" cy="241.79" r="1.9" fill="#35A2FF"/>
<text x="397.3" y="244.09" font-size="7.2" fill="#0A0A0A">14</text>
<rect x="377.6" y="249.42" width="13.3" height="13.4" fill="#F2F2F2"/>
<circle cx="384.2" cy="256.02" r="1.9" fill="#9590FF"/>
<text x="397.3" y="258.32" font-size="7.2" fill="#0A0A0A">15</text>
<rect x="377.6" y="263.65" width="13.3" height="13.4" fill="#F2F2F2"/>
<circle cx="384.2" cy="270.25" r="1.9" fill="#C77CFF"/>
<text x="397.3" y="272.55" font-size="7.2" fill="#0A0A0A">16</text>
<rect x="377.6" y="277.88" width="13.3" height="13.4" fill="#F2F2F2"/>
<circle cx="384.2" cy="284.48" r="1.9" fill="#E76BF3"/>
<text x="397.3" y="286.78" font-size="7.2" fill="#0A0A0A">17</text>
<rect x="377.6" y="292.11" width="13.3" height="13.4" fill="#F2F2F2"/>
<circle cx="384.2" cy="298.71" r="1.9" fill="#FA62DB"/>
<text x="397.3" y="301.01" font-size="7.2" fill="#0A0A0A">18</text>
<rect x="377.6" y="306.34" width="13.3" height="13.4" fill="#F2F2F2"/>
<circle cx="384.2" cy="312.94" r="1.9" fill="#FF62BC"/>
<text x="397.3" y="315.24" font-size="7.2" fill="#0A0A0A">19</text>
<rect x="377.6" y="320.57" width="13.3" height="13.4" fill="#F2F2F2"/>
<circle cx="384.2" cy="327.17" r="1.9" fill="#FF6A98"/>
<text x="397.3" y="329.47" font-size="7.2" fill="#0A0A0A">20</text>
<rect x="418.5" y="0" width="101.5" height="386.459" fill="#7A7A7A"/>
<rect x="419" y="0" width="99.70000000000005" height="9.65" fill="#000"/>
<rect x="419" y="10.75" width="28.20" height="8.96" fill="#FFFFFF"/>
<rect x="448.30" y="10.75" width="70.40" height="8.96" fill="#BFBFBF"/>
<text x="420.9" y="18.15" font-size="8.2" fill="#0D0D0D" textLength="20.24" lengthAdjust="spacingAndGlyphs">173Yb</text>
<text x="449.7" y="18.15" font-size="8.2" fill="#0D0D0D" textLength="37.75" lengthAdjust="spacingAndGlyphs">CD117/c-Kit</text>
<rect x="419" y="20.91" width="28.20" height="8.96" fill="#FFFFFF"/>
<rect x="448.30" y="20.91" width="70.40" height="8.96" fill="#BFBFBF"/>
<text x="420.9" y="28.31" font-size="8.2" fill="#0D0D0D" textLength="18.68" lengthAdjust="spacingAndGlyphs">168Er</text>
<text x="449.7" y="28.31" font-size="8.2" fill="#0D0D0D" textLength="22.10" lengthAdjust="spacingAndGlyphs">CD138</text>
<rect x="419" y="31.06" width="28.20" height="8.96" fill="#FFFFFF"/>
<rect x="448.30" y="31.06" width="70.40" height="8.96" fill="#BFBFBF"/>
<text x="420.9" y="38.46" font-size="8.2" fill="#0D0D0D" textLength="17.90" lengthAdjust="spacingAndGlyphs">209Bi</text>
<text x="449.7" y="38.46" font-size="8.2" fill="#0D0D0D" textLength="18.15" lengthAdjust="spacingAndGlyphs">CD16</text>
<rect x="419" y="41.22" width="28.20" height="8.96" fill="#FFFFFF"/>
<rect x="448.30" y="41.22" width="70.40" height="8.96" fill="#BFBFBF"/>
<text x="420.9" y="48.62" font-size="8.2" fill="#0D0D0D" textLength="21.78" lengthAdjust="spacingAndGlyphs">169Tm</text>
<text x="449.7" y="48.62" font-size="8.2" fill="#0D0D0D" textLength="18.15" lengthAdjust="spacingAndGlyphs">CD19</text>
<rect x="419" y="51.38" width="28.20" height="8.96" fill="#FFFFFF"/>
<rect x="448.30" y="51.38" width="70.40" height="8.96" fill="#BFBFBF"/>
<text x="420.9" y="58.78" font-size="8.2" fill="#0D0D0D" textLength="22.18" lengthAdjust="spacingAndGlyphs">147Sm</text>
<text x="449.7" y="58.78" font-size="8.2" fill="#0D0D0D" textLength="18.15" lengthAdjust="spacingAndGlyphs">CD20</text>
<rect x="419" y="61.53" width="28.20" height="8.96" fill="#FFFFFF"/>
<rect x="448.30" y="61.53" width="70.40" height="8.96" fill="#BFBFBF"/>
<text x="420.9" y="68.94" font-size="8.2" fill="#0D0D0D" textLength="18.68" lengthAdjust="spacingAndGlyphs">167Er</text>
<text x="449.7" y="68.94" font-size="8.2" fill="#0D0D0D" textLength="18.15" lengthAdjust="spacingAndGlyphs">CD27</text>
<rect x="419" y="71.69" width="28.20" height="8.96" fill="#FFFFFF"/>
<rect x="448.30" y="71.69" width="70.40" height="8.96" fill="#BFBFBF"/>
<text x="420.9" y="79.09" font-size="8.2" fill="#0D0D0D" textLength="22.18" lengthAdjust="spacingAndGlyphs">154Sm</text>
<text x="449.7" y="79.09" font-size="8.2" fill="#0D0D0D" textLength="18.15" lengthAdjust="spacingAndGlyphs">CD28</text>
<rect x="419" y="81.85" width="28.20" height="8.96" fill="#FFFFFF"/>
<rect x="448.30" y="81.85" width="70.40" height="8.96" fill="#BFBFBF"/>
<text x="420.9" y="89.25" font-size="8.2" fill="#0D0D0D" textLength="17.90" lengthAdjust="spacingAndGlyphs">141pr</text>
<text x="449.7" y="89.25" font-size="8.2" fill="#0D0D0D" textLength="14.20" lengthAdjust="spacingAndGlyphs">CD3</text>
<rect x="419" y="92.01" width="28.20" height="8.96" fill="#FFFFFF"/>
<rect x="448.30" y="92.01" width="70.40" height="8.96" fill="#BFBFBF"/>
<text x="420.9" y="99.41" font-size="8.2" fill="#0D0D0D" textLength="20.63" lengthAdjust="spacingAndGlyphs">148Nd</text>
<text x="449.7" y="99.41" font-size="8.2" fill="#0D0D0D" textLength="18.15" lengthAdjust="spacingAndGlyphs">CD34</text>
<rect x="419" y="102.16" width="28.20" height="8.96" fill="#FFFFFF"/>
<rect x="448.30" y="102.16" width="70.40" height="8.96" fill="#BFBFBF"/>
<text x="420.9" y="109.56" font-size="8.2" fill="#0D0D0D" textLength="20.63" lengthAdjust="spacingAndGlyphs">144Nd</text>
<text x="449.7" y="109.56" font-size="8.2" fill="#0D0D0D" textLength="18.15" lengthAdjust="spacingAndGlyphs">CD38</text>
<rect x="419" y="112.32" width="28.20" height="8.96" fill="#FFFFFF"/>
<rect x="448.30" y="112.32" width="70.40" height="8.96" fill="#BFBFBF"/>
<text x="420.9" y="119.72" font-size="8.2" fill="#0D0D0D" textLength="16.35" lengthAdjust="spacingAndGlyphs">089Y</text>
<text x="449.7" y="119.72" font-size="8.2" fill="#0D0D0D" textLength="18.15" lengthAdjust="spacingAndGlyphs">CD45</text>
<rect x="419" y="122.48" width="28.20" height="8.96" fill="#FFFFFF"/>
<rect x="448.30" y="122.48" width="70.40" height="8.96" fill="#BFBFBF"/>
<text x="420.9" y="129.88" font-size="8.2" fill="#0D0D0D" textLength="22.18" lengthAdjust="spacingAndGlyphs">149Sm</text>
<text x="449.7" y="129.88" font-size="8.2" fill="#0D0D0D" textLength="45.76" lengthAdjust="spacingAndGlyphs">CD56 (NCAM)</text>
<rect x="419" y="132.63" width="28.20" height="8.96" fill="#FFFFFF"/>
<rect x="448.30" y="132.63" width="70.40" height="8.96" fill="#BFBFBF"/>
<text x="420.9" y="140.03" font-size="8.2" fill="#0D0D0D" textLength="20.63" lengthAdjust="spacingAndGlyphs">145Nd</text>
<text x="449.7" y="140.03" font-size="8.2" fill="#0D0D0D" textLength="18.15" lengthAdjust="spacingAndGlyphs">CD81</text>
<rect x="419" y="142.79" width="28.20" height="8.96" fill="#FFFFFF"/>
<rect x="448.30" y="142.79" width="70.40" height="8.96" fill="#BFBFBF"/>
<text x="420.9" y="150.19" font-size="8.2" fill="#0D0D0D" textLength="21.02" lengthAdjust="spacingAndGlyphs">160Gd</text>
<text x="449.7" y="150.19" font-size="8.2" fill="#0D0D0D" textLength="65.91" lengthAdjust="spacingAndGlyphs">Ig kappa (light chain)</text>
<rect x="419" y="152.95" width="28.20" height="8.96" fill="#FFFFFF"/>
<rect x="448.30" y="152.95" width="70.40" height="8.96" fill="#BFBFBF"/>
<text x="420.9" y="160.35" font-size="8.2" fill="#0D0D0D" textLength="20.24" lengthAdjust="spacingAndGlyphs">151Eu</text>
<text x="449.7" y="160.35" font-size="8.2" fill="#0D0D0D" textLength="67.60" lengthAdjust="spacingAndGlyphs">Ig lambda (light chain)</text>
<rect x="419" y="163.10" width="28.20" height="8.96" fill="#FFFFFF"/>
<rect x="448.30" y="163.10" width="70.40" height="8.96" fill="#F4B084"/>
<text x="420.9" y="170.50" font-size="8.2" fill="#0D0D0D" textLength="22.18" lengthAdjust="spacingAndGlyphs">152Sm</text>
<text x="449.7" y="170.50" font-size="8.2" fill="#0D0D0D" textLength="36.70" lengthAdjust="spacingAndGlyphs">pAkt [S473]</text>
<rect x="419" y="173.26" width="28.20" height="8.96" fill="#FFFFFF"/>
<rect x="448.30" y="173.26" width="70.40" height="8.96" fill="#F4B084"/>
<text x="420.9" y="180.66" font-size="8.2" fill="#0D0D0D" textLength="20.63" lengthAdjust="spacingAndGlyphs">165Ho</text>
<text x="449.7" y="180.66" font-size="8.2" fill="#0D0D0D" textLength="46.17" lengthAdjust="spacingAndGlyphs">pCREB [S133]</text>
<rect x="419" y="183.42" width="28.20" height="8.96" fill="#FFFFFF"/>
<rect x="448.30" y="183.42" width="70.40" height="8.96" fill="#F4B084"/>
<text x="420.9" y="190.82" font-size="8.2" fill="#0D0D0D" textLength="20.24" lengthAdjust="spacingAndGlyphs">171Yb</text>
<text x="449.7" y="190.82" font-size="8.2" fill="#0D0D0D" textLength="67.60" lengthAdjust="spacingAndGlyphs">pERK 1/2 [T202/Y204]</text>
<rect x="419" y="193.58" width="28.20" height="8.96" fill="#FFFFFF"/>
<rect x="448.30" y="193.58" width="70.40" height="8.96" fill="#F4B084"/>
<text x="420.9" y="200.98" font-size="8.2" fill="#0D0D0D" textLength="21.02" lengthAdjust="spacingAndGlyphs">156Gd</text>
<text x="449.7" y="200.98" font-size="8.2" fill="#0D0D0D" textLength="58.81" lengthAdjust="spacingAndGlyphs">p-p38 [T180/Y182]</text>
<rect x="419" y="203.73" width="28.20" height="8.96" fill="#FFFFFF"/>
<rect x="448.30" y="203.73" width="70.40" height="8.96" fill="#F4B084"/>
<text x="420.9" y="211.13" font-size="8.2" fill="#0D0D0D" textLength="18.68" lengthAdjust="spacingAndGlyphs">166Er</text>
<text x="449.7" y="211.13" font-size="8.2" fill="#0D0D0D" textLength="48.81" lengthAdjust="spacingAndGlyphs">pRb [S807/811]</text>
<rect x="419" y="213.89" width="28.20" height="8.96" fill="#FFFFFF"/>
<rect x="448.30" y="213.89" width="70.40" height="8.96" fill="#F4B084"/>
<text x="420.9" y="221.29" font-size="8.2" fill="#0D0D0D" textLength="19.46" lengthAdjust="spacingAndGlyphs">175Lu</text>
<text x="449.7" y="221.29" font-size="8.2" fill="#0D0D0D" textLength="53.68" lengthAdjust="spacingAndGlyphs">pS6 [S235/S236]</text>
<rect x="419" y="224.05" width="28.20" height="8.96" fill="#FFFFFF"/>
<rect x="448.30" y="224.05" width="70.40" height="8.96" fill="#F4B084"/>
<text x="420.9" y="231.45" font-size="8.2" fill="#0D0D0D" textLength="21.02" lengthAdjust="spacingAndGlyphs">158Gd</text>
<text x="449.7" y="231.45" font-size="8.2" fill="#0D0D0D" textLength="43.02" lengthAdjust="spacingAndGlyphs">pStat3 [Y705]</text>
<rect x="419" y="234.20" width="28.20" height="8.96" fill="#FFFFFF"/>
<rect x="448.30" y="234.20" width="70.40" height="8.96" fill="#A9D08E"/>
<text x="420.9" y="241.60" font-size="8.2" fill="#0D0D0D" textLength="20.24" lengthAdjust="spacingAndGlyphs">176Yb</text>
<text x="449.7" y="241.60" font-size="8.2" fill="#0D0D0D" textLength="21.69" lengthAdjust="spacingAndGlyphs">c-MYC</text>
<rect x="419" y="244.36" width="28.20" height="8.96" fill="#FFFFFF"/>
<rect x="448.30" y="244.36" width="70.40" height="8.96" fill="#A9D08E"/>
<text x="420.9" y="251.76" font-size="8.2" fill="#0D0D0D" textLength="20.23" lengthAdjust="spacingAndGlyphs">164Dy</text>
<text x="449.7" y="251.76" font-size="8.2" fill="#0D0D0D" textLength="64.70" lengthAdjust="spacingAndGlyphs">IkbA (inhibits NF-kB)</text>
<rect x="419" y="254.52" width="28.20" height="8.96" fill="#FFFFFF"/>
<rect x="448.30" y="254.52" width="70.40" height="8.96" fill="#A9D08E"/>
<text x="420.9" y="261.92" font-size="8.2" fill="#0D0D0D" textLength="20.63" lengthAdjust="spacingAndGlyphs">143Nd</text>
<text x="449.7" y="261.92" font-size="8.2" fill="#0D0D0D" textLength="19.33" lengthAdjust="spacingAndGlyphs">IKZF1</text>
<rect x="419" y="264.68" width="28.20" height="8.96" fill="#FFFFFF"/>
<rect x="448.30" y="264.68" width="70.40" height="8.96" fill="#A9D08E"/>
<text x="420.9" y="272.07" font-size="8.2" fill="#0D0D0D" textLength="20.23" lengthAdjust="spacingAndGlyphs">162Dy</text>
<text x="449.7" y="272.07" font-size="8.2" fill="#0D0D0D" textLength="19.33" lengthAdjust="spacingAndGlyphs">IKZF3</text>
<rect x="419" y="274.83" width="28.20" height="8.96" fill="#FFFFFF"/>
<rect x="448.30" y="274.83" width="70.40" height="8.96" fill="#A9D08E"/>
<text x="420.9" y="282.23" font-size="8.2" fill="#0D0D0D" textLength="21.02" lengthAdjust="spacingAndGlyphs">155Gd</text>
<text x="449.7" y="282.23" font-size="8.2" fill="#0D0D0D" textLength="15.38" lengthAdjust="spacingAndGlyphs">IRF4</text>
<rect x="419" y="284.99" width="28.20" height="8.96" fill="#FFFFFF"/>
<rect x="448.30" y="284.99" width="70.40" height="8.96" fill="#A9D08E"/>
<text x="420.9" y="292.39" font-size="8.2" fill="#0D0D0D" textLength="20.63" lengthAdjust="spacingAndGlyphs">150Nd</text>
<text x="449.7" y="292.39" font-size="8.2" fill="#0D0D0D" textLength="18.94" lengthAdjust="spacingAndGlyphs">SOX2</text>
<rect x="419" y="295.15" width="28.20" height="8.96" fill="#FFFFFF"/>
<rect x="448.30" y="295.15" width="70.40" height="8.96" fill="#9BC2E6"/>
<text x="420.9" y="302.55" font-size="8.2" fill="#0D0D0D" textLength="20.24" lengthAdjust="spacingAndGlyphs">153Eu</text>
<text x="449.7" y="302.55" font-size="8.2" fill="#0D0D0D" textLength="20.12" lengthAdjust="spacingAndGlyphs">BCL-2</text>
<rect x="419" y="305.30" width="28.20" height="8.96" fill="#FFFFFF"/>
<rect x="448.30" y="305.30" width="70.40" height="8.96" fill="#9BC2E6"/>
<text x="420.9" y="312.70" font-size="8.2" fill="#0D0D0D" textLength="20.63" lengthAdjust="spacingAndGlyphs">142Nd</text>
<text x="449.7" y="312.70" font-size="8.2" fill="#0D0D0D" textLength="66.69" lengthAdjust="spacingAndGlyphs">Caspase 3 (Cleaved)</text>
<rect x="419" y="315.46" width="28.20" height="8.96" fill="#FFFFFF"/>
<rect x="448.30" y="315.46" width="70.40" height="8.96" fill="#9BC2E6"/>
<text x="420.9" y="322.86" font-size="8.2" fill="#0D0D0D" textLength="20.23" lengthAdjust="spacingAndGlyphs">163Dy</text>
<text x="449.7" y="322.86" font-size="8.2" fill="#0D0D0D" textLength="21.30" lengthAdjust="spacingAndGlyphs">MCL-1</text>
<rect x="419" y="325.62" width="28.20" height="8.96" fill="#FFFFFF"/>
<rect x="448.30" y="325.62" width="70.40" height="8.96" fill="#DDEBF7"/>
<text x="420.9" y="333.02" font-size="8.2" fill="#0D0D0D" textLength="20.23" lengthAdjust="spacingAndGlyphs">161Dy</text>
<text x="449.7" y="333.02" font-size="8.2" fill="#0D0D0D" textLength="22.10" lengthAdjust="spacingAndGlyphs">CD147</text>
<rect x="419" y="335.77" width="28.20" height="8.96" fill="#FFFFFF"/>
<rect x="448.30" y="335.77" width="70.40" height="8.96" fill="#DDEBF7"/>
<text x="420.9" y="343.17" font-size="8.2" fill="#0D0D0D" textLength="19.85" lengthAdjust="spacingAndGlyphs">159Tb</text>
<text x="449.7" y="343.17" font-size="8.2" fill="#0D0D0D" textLength="48.92" lengthAdjust="spacingAndGlyphs">CD274 (PD-L1)</text>
<rect x="419" y="345.93" width="28.20" height="8.96" fill="#FFFFFF"/>
<rect x="448.30" y="345.93" width="70.40" height="8.96" fill="#A673D3"/>
<text x="420.9" y="353.33" font-size="8.2" fill="#0D0D0D" textLength="20.24" lengthAdjust="spacingAndGlyphs">174Yb</text>
<text x="449.7" y="353.33" font-size="8.2" fill="#0D0D0D" textLength="22.10" lengthAdjust="spacingAndGlyphs">CD49d</text>
<rect x="419" y="356.09" width="28.20" height="8.96" fill="#FFFFFF"/>
<rect x="448.30" y="356.09" width="70.40" height="8.96" fill="#808000"/>
<text x="420.9" y="363.49" font-size="8.2" fill="#0D0D0D" textLength="18.68" lengthAdjust="spacingAndGlyphs">170Er</text>
<text x="449.7" y="363.49" font-size="8.2" fill="#0D0D0D" textLength="18.15" lengthAdjust="spacingAndGlyphs">CD71</text>
<rect x="419" y="366.25" width="28.20" height="8.96" fill="#FFFFFF"/>
<rect x="448.30" y="366.25" width="70.40" height="8.96" fill="#FFFF00"/>
<text x="420.9" y="373.64" font-size="8.2" fill="#0D0D0D" textLength="20.63" lengthAdjust="spacingAndGlyphs">146Nd</text>
<text x="449.7" y="373.64" font-size="8.2" fill="#0D0D0D" textLength="20.12" lengthAdjust="spacingAndGlyphs">CRBN</text>
<rect x="419" y="376.40" width="28.20" height="8.96" fill="#FFFFFF"/>
<rect x="448.30" y="376.40" width="70.40" height="8.96" fill="#FF0000"/>
<text x="420.9" y="383.80" font-size="8.2" fill="#0D0D0D" textLength="20.24" lengthAdjust="spacingAndGlyphs">172Yb</text>
<text x="449.7" y="383.80" font-size="8.2" fill="#0D0D0D" textLength="16.57" lengthAdjust="spacingAndGlyphs">Ki-67</text>
<rect x="419" y="80.65" width="99.70" height="1.4" fill="#1E1E1E"/>
<rect x="419" y="111.12" width="99.70" height="1.4" fill="#1E1E1E"/>
<rect x="419" y="273.63" width="99.70" height="1.4" fill="#1E1E1E"/>
<rect x="419" y="304.10" width="99.70" height="1.4" fill="#1E1E1E"/>
<text x="420.3" y="7.9" font-size="6.6" font-weight="bold" fill="#F2EDE4" textLength="14.3" lengthAdjust="spacingAndGlyphs">Label</text>
<text x="449" y="7.9" font-size="6.6" font-weight="bold" fill="#F2EDE4" textLength="17.6" lengthAdjust="spacingAndGlyphs">Target</text>
<rect x="440.2" y="1" width="7.1" height="7.5" fill="#F0F0F0"/>
<path d="M441.9 3.6 L445.6 3.6 L443.75 5.6 Z" fill="#333"/>
<rect x="511.7" y="1.2" width="6.9" height="7.3" fill="#F0F0F0"/>
<path d="M515.9 2.5 L515.9 6.8 M514 5.4 L514.8 6.6 L515.9 6.8" stroke="#555" stroke-width="0.6" fill="none"/>
<rect x="243.8" y="392.2" width="93.5" height="12.6" fill="#BFBFBF"/>
<text x="269" y="403.5" font-size="6.1" font-weight="bold" fill="#111" textLength="42.8" lengthAdjust="spacingAndGlyphs">Lineage defining</text>
<rect x="338" y="391.4" width="93.7" height="13.0" fill="#FAC090"/>
<text x="373.1" y="403.3" font-size="6.1" font-weight="bold" fill="#111" textLength="22.7" lengthAdjust="spacingAndGlyphs">Signaling</text>
<rect x="243.8" y="405.6" width="93.5" height="12.8" fill="#C3D69B"/>
<text x="264.7" y="416.8" font-size="6.1" font-weight="bold" fill="#111" textLength="53" lengthAdjust="spacingAndGlyphs">Transcription factor</text>
<rect x="338" y="405.2" width="93.7" height="12.7" fill="#95B3D7"/>
<text x="366.1" y="416.2" font-size="6.1" font-weight="bold" fill="#111" textLength="38.4" lengthAdjust="spacingAndGlyphs">Death/viability</text>
<rect x="243.8" y="419.8" width="93.5" height="12.6" fill="#DBEEF3"/>
<text x="264.7" y="431" font-size="6.1" font-weight="bold" fill="#111" textLength="52.3" lengthAdjust="spacingAndGlyphs">Immune regulatory</text>
<rect x="338" y="419.2" width="94.3" height="12.9" fill="#8064A2"/>
<text x="374.9" y="430.2" font-size="6.1" font-weight="bold" fill="#111" textLength="19.8" lengthAdjust="spacingAndGlyphs">Integrin</text>
<rect x="243.8" y="433.7" width="93.5" height="12.9" fill="#948A54"/>
<text x="272.2" y="445.3" font-size="6.1" font-weight="bold" fill="#111" textLength="37.2" lengthAdjust="spacingAndGlyphs">Iron transport</text>
<rect x="339" y="433.7" width="93.1" height="13.1" fill="#FFFF00"/>
<text x="363.8" y="444.5" font-size="6.1" font-weight="bold" fill="#111" textLength="41.9" lengthAdjust="spacingAndGlyphs">Ubiquitin  ligase</text>
<rect x="287.7" y="447.6" width="94.1" height="13.4" fill="#FF0000"/>
<text x="318.9" y="457.8" font-size="6.1" font-weight="bold" fill="#111" textLength="31.7" lengthAdjust="spacingAndGlyphs">Proliferation</text>
</svg>
</body></html>
